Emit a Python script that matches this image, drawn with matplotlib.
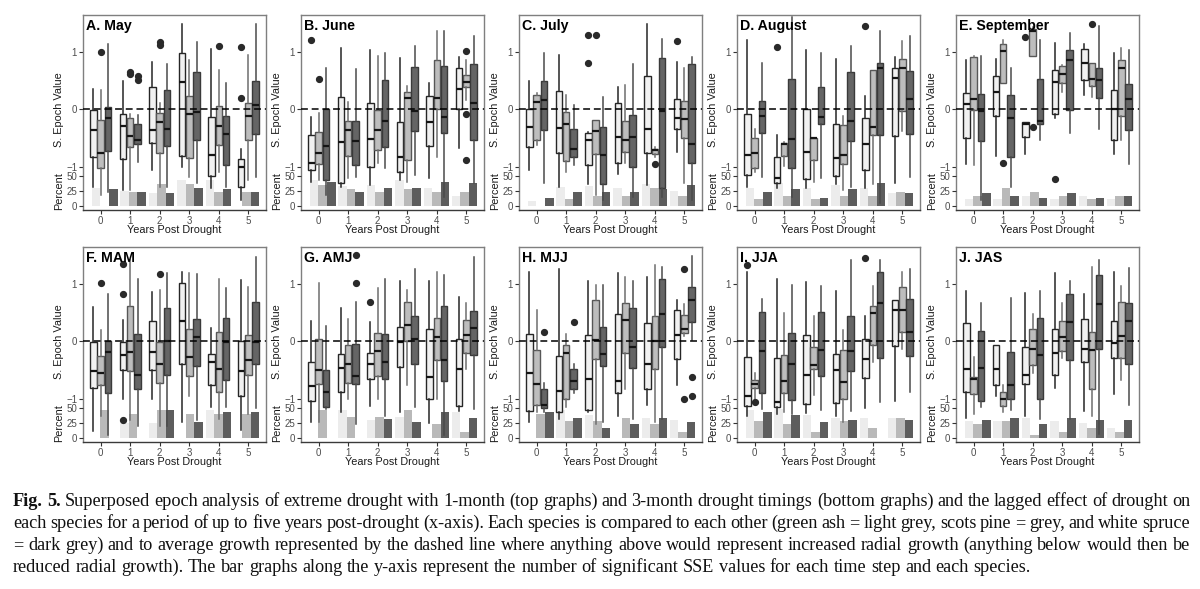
import matplotlib
matplotlib.use("Agg")
import matplotlib.pyplot as plt

plt.rcParams['font.family'] = ['Liberation Sans', 'DejaVu Sans']

W, H = 1200, 589

years = [0, 1, 2, 3, 4, 5]
species = ["green ash", "scots pine", "white spruce"]

# box stats per year: (whislo, q1, med, q3, whishi) for light, grey, dark
may_box = [
    [(-1.36, -0.84, -0.37, -0.02, 0.36), (-1.50, -1.03, -0.76, -0.18, 0.33), (-1.45, -0.72, -0.16, 0.04, 1.14)],
    [(-1.41, -0.86, -0.30, -0.08, 0.49), (-1.40, -0.66, -0.47, -0.16, -0.08), (-0.92, -0.61, -0.53, -0.26, -0.10)],
    [(-1.06, -0.58, -0.37, 0.38, 0.83), (-1.35, -0.77, -0.22, -0.06, 0.11), (-1.35, -0.64, -0.34, 0.34, 0.78)],
    [(-1.00, -0.82, 0.48, 0.97, 1.48), (-1.18, -0.85, -0.09, 0.23, 0.86), (-1.29, -0.54, -0.05, 0.64, 1.17)],
    [(-1.38, -1.17, -0.80, -0.14, 1.04), (-1.09, -0.63, -0.30, 0.05, 0.68), (-1.35, -0.97, -0.44, -0.12, 0.46)],
    [(-1.58, -1.35, -1.00, -0.86, -0.70), (-1.23, -0.53, -0.12, 0.10, 0.95), (-1.18, -0.44, 0.08, 0.49, 1.49)],
]
may_out = [(0, 1, 1.0), (1, 1, 0.65), (1, 1, 0.62), (1, 2, 0.57), (1, 2, 0.5),
           (2, 1, 1.17), (2, 1, 1.12), (4, 1, 1.1), (5, 0, 1.08), (5, 0, 0.19)]
may_pct = [(29, 0, 27.6), (25, 23.6, 23.6), (22, 36, 20.8), (44, 36, 30), (44, 23.6, 27.6), (0, 23.6, 23.6)]

june_box = [
    [(-1.26, -1.06, -0.93, -0.45, -0.13), (-1.23, -0.96, -0.76, -0.39, -0.06), (-1.50, -1.23, -0.64, 0.00, 0.72)],
    [(-1.35, -1.29, -0.57, 0.21, 1.07), (-1.20, -0.82, -0.37, -0.20, 0.13), (-1.18, -0.97, -0.55, -0.21, 0.70)],
    [(-1.32, -1.00, -0.52, 0.10, 1.03), (-0.94, -0.71, -0.37, -0.02, 0.92), (-1.03, -0.66, -0.20, 0.50, 0.97)],
    [(-1.23, -1.09, -0.83, -0.23, 0.89), (-1.26, -0.88, 0.20, 0.30, 0.40), (-1.15, -0.38, -0.03, 0.74, 1.10)],
    [(-1.19, -0.64, -0.23, 0.23, 0.45), (-0.83, 0.00, 0.20, 0.85, 1.36), (-1.52, -0.42, -0.14, 0.75, 1.36)],
    [(-0.68, 0.00, 0.35, 0.71, 0.91), (0.16, 0.38, 0.47, 0.60, 0.85), (-1.29, -0.53, 0.10, 0.78, 1.28)],
]
june_out = [(0, 0, 1.21), (0, 1, 0.53), (5, 1, 1.01), (5, 1, -0.08), (5, 1, -0.88)]
june_pct = [(43, 35, 40), (33, 28, 23.6), (35, 23.6, 30), (43, 28, 30), (30, 23.6, 40), (17, 23.6, 37.6)]

july_box = [
    [(-1.06, -0.66, -0.31, 0.00, 0.49), (-0.63, -0.53, 0.12, 0.24, 0.28), (-1.29, -0.37, 0.16, 0.49, 0.97)],
    [(-1.35, -0.77, -0.32, 0.31, 0.95), (-1.09, -0.90, -0.25, -0.05, 0.24), (-0.97, -0.83, -0.70, -0.35, 0.08)],
    [(-1.31, -0.97, -0.54, -0.42, -0.39), (-1.50, -0.78, -0.38, -0.19, -0.19), (-1.58, -1.30, -0.80, -0.31, 0.21)],
    [(-1.12, -0.94, -0.48, 0.10, 0.39), (-0.94, -0.75, -0.54, -0.20, 0.42), (-1.52, -1.00, -0.48, -0.10, 0.79)],
    [(-1.32, -0.76, -0.35, 0.58, 1.49), (-0.83, -0.78, -0.71, -0.70, -0.66), (-1.52, -1.38, -0.03, 0.90, 1.23)],
    [(-0.75, -0.34, -0.16, 0.17, 0.82), (-1.28, -0.50, -0.17, 0.14, 0.72), (-1.58, -0.94, -0.60, 0.79, 0.91)],
]
july_out = [(2, 0, 1.3), (2, 0, 0.81), (2, 1, 1.3), (4, 1, -0.96), (5, 0, 1.19)]
july_pct = [(8, 0, 13.5), (31, 11, 23.6), (34, 17, 23.6), (30, 17, 23.6), (36, 29, 27.5), (25, 17, 35)]

aug_box = [
    [(-1.35, -1.15, -0.79, -0.09, 1.21), (-1.09, -1.02, -0.77, -0.51, -0.34), (-1.18, -0.41, -0.12, 0.14, 0.81)],
    [(-1.38, -1.28, -1.19, -0.84, -0.45), (-0.99, -0.82, -0.61, -0.58, -0.57), (-1.52, -1.03, -0.52, 0.53, 1.60)],
    [(-1.37, -1.21, -0.74, 0.00, 1.03), (-1.26, -0.88, -0.51, -0.51, -0.51), (-1.19, -0.26, -0.13, 0.39, 0.97)],
    [(-1.30, -1.17, -0.85, -0.26, 0.88), (-1.41, -0.96, -0.80, -0.28, -0.12), (-1.35, -0.55, -0.20, 0.65, 1.10)],
    [(-1.37, -1.06, -0.61, -0.16, 0.23), (-1.30, -0.45, -0.31, 0.69, 0.69), (-1.64, -0.45, 0.72, 0.81, 1.37)],
    [(-1.28, -0.47, 0.54, 0.72, 0.91), (-0.38, -0.03, 0.72, 0.87, 1.19), (-1.18, -0.44, 0.17, 0.66, 1.27)],
]
aug_out = [(1, 0, 1.08), (4, 0, 1.44)]
aug_pct = [(30, 11, 23.6), (39, 17, 27.5), (30, 11, 13.5), (35, 17, 27.5), (30, 17, 39), (21, 23.6, 21)]

sep_box = [
    [(-0.96, -0.50, 0.09, 0.28, 0.85), (-0.97, -0.02, 0.17, 0.91, 0.93), (-1.58, -0.56, -0.03, 0.26, 0.92)],
    [(-0.82, -0.12, 0.30, 0.58, 0.88), (0.45, 0.45, 1.01, 1.14, 1.21), (-1.35, -0.83, -0.16, 0.24, 0.71)],
    [(-0.78, -0.48, -0.26, -0.23, -0.23), (0.92, 0.92, 1.37, 1.40, 1.43), (-0.53, -0.25, -0.20, 0.53, 1.20)],
    [(-0.16, -0.08, 0.48, 0.69, 1.15), (0.30, 0.45, 0.62, 0.75, 0.77), (-0.41, -0.02, 0.86, 1.03, 1.33)],
    [(0.24, 0.50, 0.81, 1.04, 1.14), (0.21, 0.40, 0.52, 0.81, 0.81), (-0.35, 0.20, 0.50, 0.72, 1.44)],
    [(-0.78, -0.53, 0.01, 0.33, 0.98), (-0.54, -0.12, 0.71, 0.85, 1.06), (-0.96, -0.37, 0.17, 0.43, 1.03)],
]
sep_out = [(1, 1, -0.93), (2, 0, 1.25), (2, 1, -0.31), (3, 0, -1.22), (4, 1, 1.49)]
sep_pct = [(12, 17, 21), (12, 29, 17), (17, 23.6, 13.5), (12, 17, 21), (17, 11, 13.5), (12, 17, 17)]

mam_box = [
    [(-1.57, -0.81, -0.52, -0.02, 0.59), (-1.30, -0.77, -0.56, -0.25, 0.20), (-1.64, -0.91, -0.19, 0.01, 0.82)],
    [(-1.01, -0.51, -0.24, -0.02, 0.37), (-1.38, -0.52, -0.18, 0.62, 1.41), (-1.47, -0.84, -0.58, 0.13, 1.08)],
    [(-1.01, -0.51, -0.18, 0.35, 0.86), (-1.47, -0.72, -0.39, -0.02, 0.89), (-1.47, -0.58, 0.00, 0.58, 1.18)],
    [(-1.40, -0.39, 0.36, 1.02, 1.21), (-0.95, -0.61, -0.27, 0.21, 1.18), (-1.38, -0.43, 0.07, 0.39, 1.17)],
    [(-1.15, -0.76, -0.37, -0.22, 0.23), (-1.35, -0.89, -0.49, 0.16, 1.08), (-1.15, -0.67, -0.02, 0.40, 0.92)],
    [(-1.54, -0.95, -0.52, 0.00, 1.07), (-1.27, -0.59, -0.32, 0.10, 0.95), (-1.17, -0.40, -0.02, 0.68, 1.47)],
]
mam_out = [(0, 1, 1.01), (1, 0, 1.34), (1, 0, 0.82), (1, 0, -1.38), (2, 1, 1.17)]
mam_pct = [(0, 47, 0), (24, 40.6, 0), (25, 47, 47), (0, 40.6, 27), (47, 40.6, 43), (0, 40.6, 43)]

amj_box = [
    [(-1.41, -1.04, -0.78, -0.37, 0.36), (-1.41, -0.75, -0.51, 0.04, 1.01), (-1.18, -1.14, -0.89, -0.51, 0.27)],
    [(-1.24, -0.88, -0.47, -0.22, 0.58), (-1.01, -0.72, -0.40, -0.07, 0.39), (-1.44, -0.74, -0.61, -0.05, 0.69)],
    [(-1.12, -0.66, -0.40, -0.20, 0.33), (-1.01, -0.61, -0.17, 0.14, 0.92), (-1.30, -0.66, -0.36, 0.12, 1.08)],
    [(-1.24, -0.45, -0.02, 0.25, 1.04), (-0.76, 0.01, 0.28, 0.69, 0.89), (-1.14, -0.39, 0.03, 0.43, 1.25)],
    [(-1.42, -1.00, -0.62, 0.21, 1.04), (-1.01, -0.33, 0.07, 0.41, 1.20), (-1.64, -0.70, -0.33, 0.61, 1.15)],
    [(-1.21, -1.12, -0.49, 0.04, 0.77), (-0.49, -0.20, 0.10, 0.37, 0.67), (-1.18, -0.24, 0.23, 0.52, 1.46)],
]
amj_out = [(1, 2, 1.02), (1, 2, 1.5), (2, 0, 0.68)]
amj_pct = [(0, 46, 0), (47, 35, 0), (30, 35, 31), (35, 47, 27), (0, 22.5, 43), (43, 10.4, 33.5)]

mjj_box = [
    [(-1.40, -1.22, -0.56, 0.13, 1.20), (-1.24, -1.11, -0.75, -0.16, 0.55), (-1.24, -1.16, -1.11, -0.84, -0.73)],
    [(-1.35, -1.24, -0.87, -0.26, 1.25), (-1.15, -1.01, -0.21, -0.07, 0.13), (-0.91, -0.84, -0.70, -0.48, -0.39)],
    [(-1.23, -1.19, -0.65, 0.10, 1.04), (-1.45, -0.31, 0.02, 0.72, 0.97), (-1.41, -0.43, -0.23, 0.25, 0.97)],
    [(-1.30, -0.91, -0.70, 0.48, 1.18), (-0.84, -0.21, 0.37, 0.66, 1.11), (-1.35, -0.47, -0.10, 0.58, 1.05)],
    [(-1.11, -0.84, -0.40, 0.31, 1.12), (-1.40, -0.49, 0.01, 0.44, 1.33), (-1.35, -0.10, 0.48, 1.08, 1.29)],
    [(-0.76, -0.31, 0.10, 0.55, 0.71), (0.09, 0.14, 0.21, 0.46, 0.65), (0.02, 0.33, 0.72, 0.95, 1.48)],
]
mjj_out = [(0, 2, 0.16), (1, 2, 0.33), (5, 1, 1.26), (5, 1, -1.01), (5, 2, -0.62), (5, 2, -0.95)]
mjj_pct = [(0, 40.6, 43), (47, 28, 33.5), (39, 28, 16), (0, 33.5, 22.5), (33.5, 22.5, 33.5), (30, 10.4, 27)]

jja_box = [
    [(-1.31, -1.12, -0.96, -0.27, 1.21), (-1.00, -0.82, -0.74, -0.67, -0.55), (-1.18, -0.91, -0.17, 0.50, 0.73)],
    [(-1.27, -1.15, -1.05, -0.29, 1.08), (-1.23, -0.91, -0.69, -0.24, 0.49), (-1.27, -1.02, -0.39, 0.14, 0.97)],
    [(-1.25, -1.09, -0.59, 0.10, 1.03), (-0.94, -0.49, -0.42, -0.10, 0.43), (-1.20, -0.61, -0.16, 0.51, 0.96)],
    [(-1.31, -1.07, -0.50, -0.22, 0.88), (-1.40, -1.01, -0.71, -0.16, 0.20), (-1.21, -0.52, -0.17, 0.44, 1.42)],
    [(-1.17, -0.64, -0.31, 0.04, 0.44), (-0.36, -0.06, 0.49, 0.61, 0.96), (-1.06, -0.30, 0.67, 1.21, 1.41)],
    [(-1.04, -0.09, 0.55, 0.72, 0.72), (-0.14, 0.16, 0.55, 0.95, 1.20), (-0.89, -0.26, 0.16, 0.74, 1.26)],
]
jja_out = [(0, 0, 1.33), (0, 1, -1.05), (4, 0, 1.44)]
jja_pct = [(47, 28.5, 43), (49, 22.5, 38), (38, 10.4, 27), (33.5, 28.5, 30), (33.5, 17, 0), (34, 34, 30)]

jas_box = [
    [(-1.33, -0.89, -0.48, 0.31, 0.88), (-1.27, -0.92, -0.65, -0.62, -0.27), (-1.15, -1.04, -0.46, 0.18, 0.66)],
    [(-0.95, -0.77, -0.48, -0.07, -0.06), (-1.23, -1.12, -1.00, -0.88, -0.77), (-1.20, -1.00, -0.77, -0.19, 0.76)],
    [(-1.30, -0.75, -0.59, -0.10, 0.84), (-0.55, -0.41, -0.14, 0.21, 0.48), (-1.35, -1.00, -0.24, 0.41, 0.88)],
    [(-0.81, -0.59, -0.20, 0.21, 1.19), (-0.30, -0.17, 0.07, 0.36, 0.66), (-1.35, -0.33, 0.33, 0.82, 1.04)],
    [(-1.22, -0.37, -0.13, 0.39, 0.82), (-1.30, -0.84, -0.16, 0.16, 1.30), (-1.61, -0.14, 0.65, 1.15, 1.42)],
    [(-0.92, -0.29, -0.04, 0.35, 1.21), (-0.67, -0.30, 0.09, 0.68, 0.96), (-1.11, -0.40, 0.35, 0.66, 1.27)],
]
jas_out = []
jas_pct = [(28.5, 22.5, 30), (28.5, 28.5, 33.5), (33.5, 5, 22.5), (28.5, 10.4, 33.5), (25, 17, 30), (17, 10.4, 30)]

titles = ["A. May", "B. June", "C. July", "D. August", "E. September",
          "F. MAM", "G. AMJ", "H. MJJ", "I. JJA", "J. JAS"]

caption = [
    "Fig. 5.  Superposed epoch analysis of extreme drought with 1-month (top graphs) and 3-month drought timings (bottom graphs) and the lagged effect of drought on",
    "each species for a period of up to five years post-drought (x-axis). Each species is compared to each other (green ash = light grey, scots pine = grey, and white spruce",
    "= dark grey) and to average growth represented by the dashed line where anything above would represent increased radial growth (anything below would then be",
    "reduced radial growth). The bar graphs along the y-axis represent the number of significant SSE values for each time step and each species.",
]

# styles
box_fill = ['#f1f1f1', '#bdbdbd', '#656565']
box_edge = ['#262626', '#575757', '#3a3a3a']
whisk_col = ['#262626', '#6e6e6e', '#4a4a4a']
bar_fill = ['#ececec', '#b9b9b9', '#5d5d5d']
box_off = [-0.25, 0.0, 0.25]
bar_off = [-0.3, 0.0, 0.3]

fig = plt.figure(figsize=(W / 100, H / 100), dpi=100)
fig.patch.set_facecolor('white')


def rect(x, y, w, h):
    return [x / W, 1 - (y + h) / H, w / W, h / H]


lefts = [83, 301, 519, 737, 956]
tops = [15, 247]
pw, ph = 183, 195
ylim_box = (-1.755, 1.64)
ylim_pct = (-7.2, 321.0)

panel_data = [
    (may_box, may_out, may_pct), (june_box, june_out, june_pct), (july_box, july_out, july_pct),
    (aug_box, aug_out, aug_pct), (sep_box, sep_out, sep_pct),
    (mam_box, mam_out, mam_pct), (amj_box, amj_out, amj_pct), (mjj_box, mjj_out, mjj_pct),
    (jja_box, jja_out, jja_pct), (jas_box, jas_out, jas_pct),
]

for k, (boxes, outs, pcts) in enumerate(panel_data):
    left = lefts[k % 5]
    top = tops[k // 5]

    # bar inset (own x scale, slightly narrower than the panel)
    axb = fig.add_axes(rect(left + 4.7, top, 176, ph))
    axb.set_zorder(0)
    axb.set_xlim(-0.6, 5.6)
    axb.set_ylim(*ylim_pct)
    axb.axis('off')
    for s in range(3):
        axb.bar([y + bar_off[s] for y in years], [p[s] for p in pcts], width=0.3,
                color=bar_fill[s], linewidth=0)

    ax = fig.add_axes(rect(left, top, pw, ph))
    ax.set_zorder(1)
    ax.set_facecolor('none')
    for s in range(3):
        stats = []
        for y in years:
            lo, q1, med, q3, hi = boxes[y][s]
            fl = [v for (yy, ss, v) in outs if yy == y and ss == s]
            stats.append(dict(whislo=lo, q1=q1, med=med, q3=q3, whishi=hi, fliers=fl))
        ax.bxp(stats, positions=[y + box_off[s] for y in years], widths=0.22,
               patch_artist=True, showcaps=False, manage_ticks=False,
               boxprops=dict(facecolor=box_fill[s], edgecolor=box_edge[s], linewidth=1.0),
               whiskerprops=dict(color=whisk_col[s], linewidth=1.1),
               medianprops=dict(color='#151515', linewidth=1.6),
               flierprops=dict(marker='o', markersize=4.2, markerfacecolor='#2a2a2a',
                               markeredgecolor='#2a2a2a'))
    ax.axhline(0, color='black', lw=1.1, ls=(0, (4.5, 2.5)), zorder=5)
    ax.set_xlim(-0.6, 5.6)
    ax.set_ylim(*ylim_box)
    ax.set_xticks(years)
    ax.set_yticks([-1, 0, 1])
    ax.tick_params(length=3, width=0.8, color='#333333', labelsize=7,
                   labelcolor='#4d4d4d', pad=1.2)
    for side in ['top', 'right', 'left']:
        ax.spines[side].set_color('#7f7f7f')
        ax.spines[side].set_linewidth(1.0)
    ax.spines['bottom'].set_color('#3a3a3a')
    ax.spines['bottom'].set_linewidth(1.0)

    ax2 = ax.twinx()
    ax2.set_ylim(*ylim_pct)
    ax2.set_yticks([0, 25, 50])
    ax2.yaxis.tick_left()
    ax2.tick_params(length=3, width=0.8, color='#333333', labelsize=7,
                    labelcolor='#4d4d4d', pad=1.2)
    for side in ax2.spines:
        ax2.spines[side].set_visible(False)

    ax.text(0.016, 0.978, titles[k], transform=ax.transAxes, ha='left', va='top',
            fontsize=10.2, fontweight='bold', color='black', zorder=6)

    fig.text((left - 24) / W, 1 - (top + 95) / H, "S. Epoch Value", rotation=90,
             ha='center', va='center', fontsize=7.8, color='#1a1a1a')
    fig.text((left - 24) / W, 1 - (top + 176) / H, "Percent", rotation=90,
             ha='center', va='center', fontsize=7.8, color='#1a1a1a')
    fig.text((left + pw / 2) / W, 1 - (top + ph + 20) / H, "Years Post Drought",
             ha='center', va='center', fontsize=7.8, color='#1a1a1a')

# caption, justified like the journal layout
renderer = fig.canvas.get_renderer()
serif = 'Liberation Serif'


def width_of(s, size, weight='normal'):
    t = fig.text(0, 0, s, fontsize=size, family=serif, fontweight=weight)
    w = t.get_window_extent(renderer).width
    t.remove()
    return w


size = 10 * 1017 / width_of(caption[3], 10)
cap_left, cap_right = 13, 1190
baselines = [506, 528, 550, 572]
for i, line in enumerate(caption):
    words = line.split()
    weights = ['bold' if (i == 0 and j < 2) else 'normal' for j in range(len(words))]
    widths = [width_of(w, size, wt) for w, wt in zip(words, weights)]
    if i < 3:
        gap = (cap_right - cap_left - sum(widths)) / (len(words) - 1)
    else:
        gap = width_of('a b', size) - width_of('ab', size)
    x = cap_left
    for w, wt, wd in zip(words, weights, widths):
        fig.text(x / W, 1 - baselines[i] / H, w, fontsize=size, family=serif,
                 fontweight=wt, va='baseline', ha='left', color='#111111')
        x += wd + gap

fig.savefig("out.png", dpi=100, facecolor='white')
